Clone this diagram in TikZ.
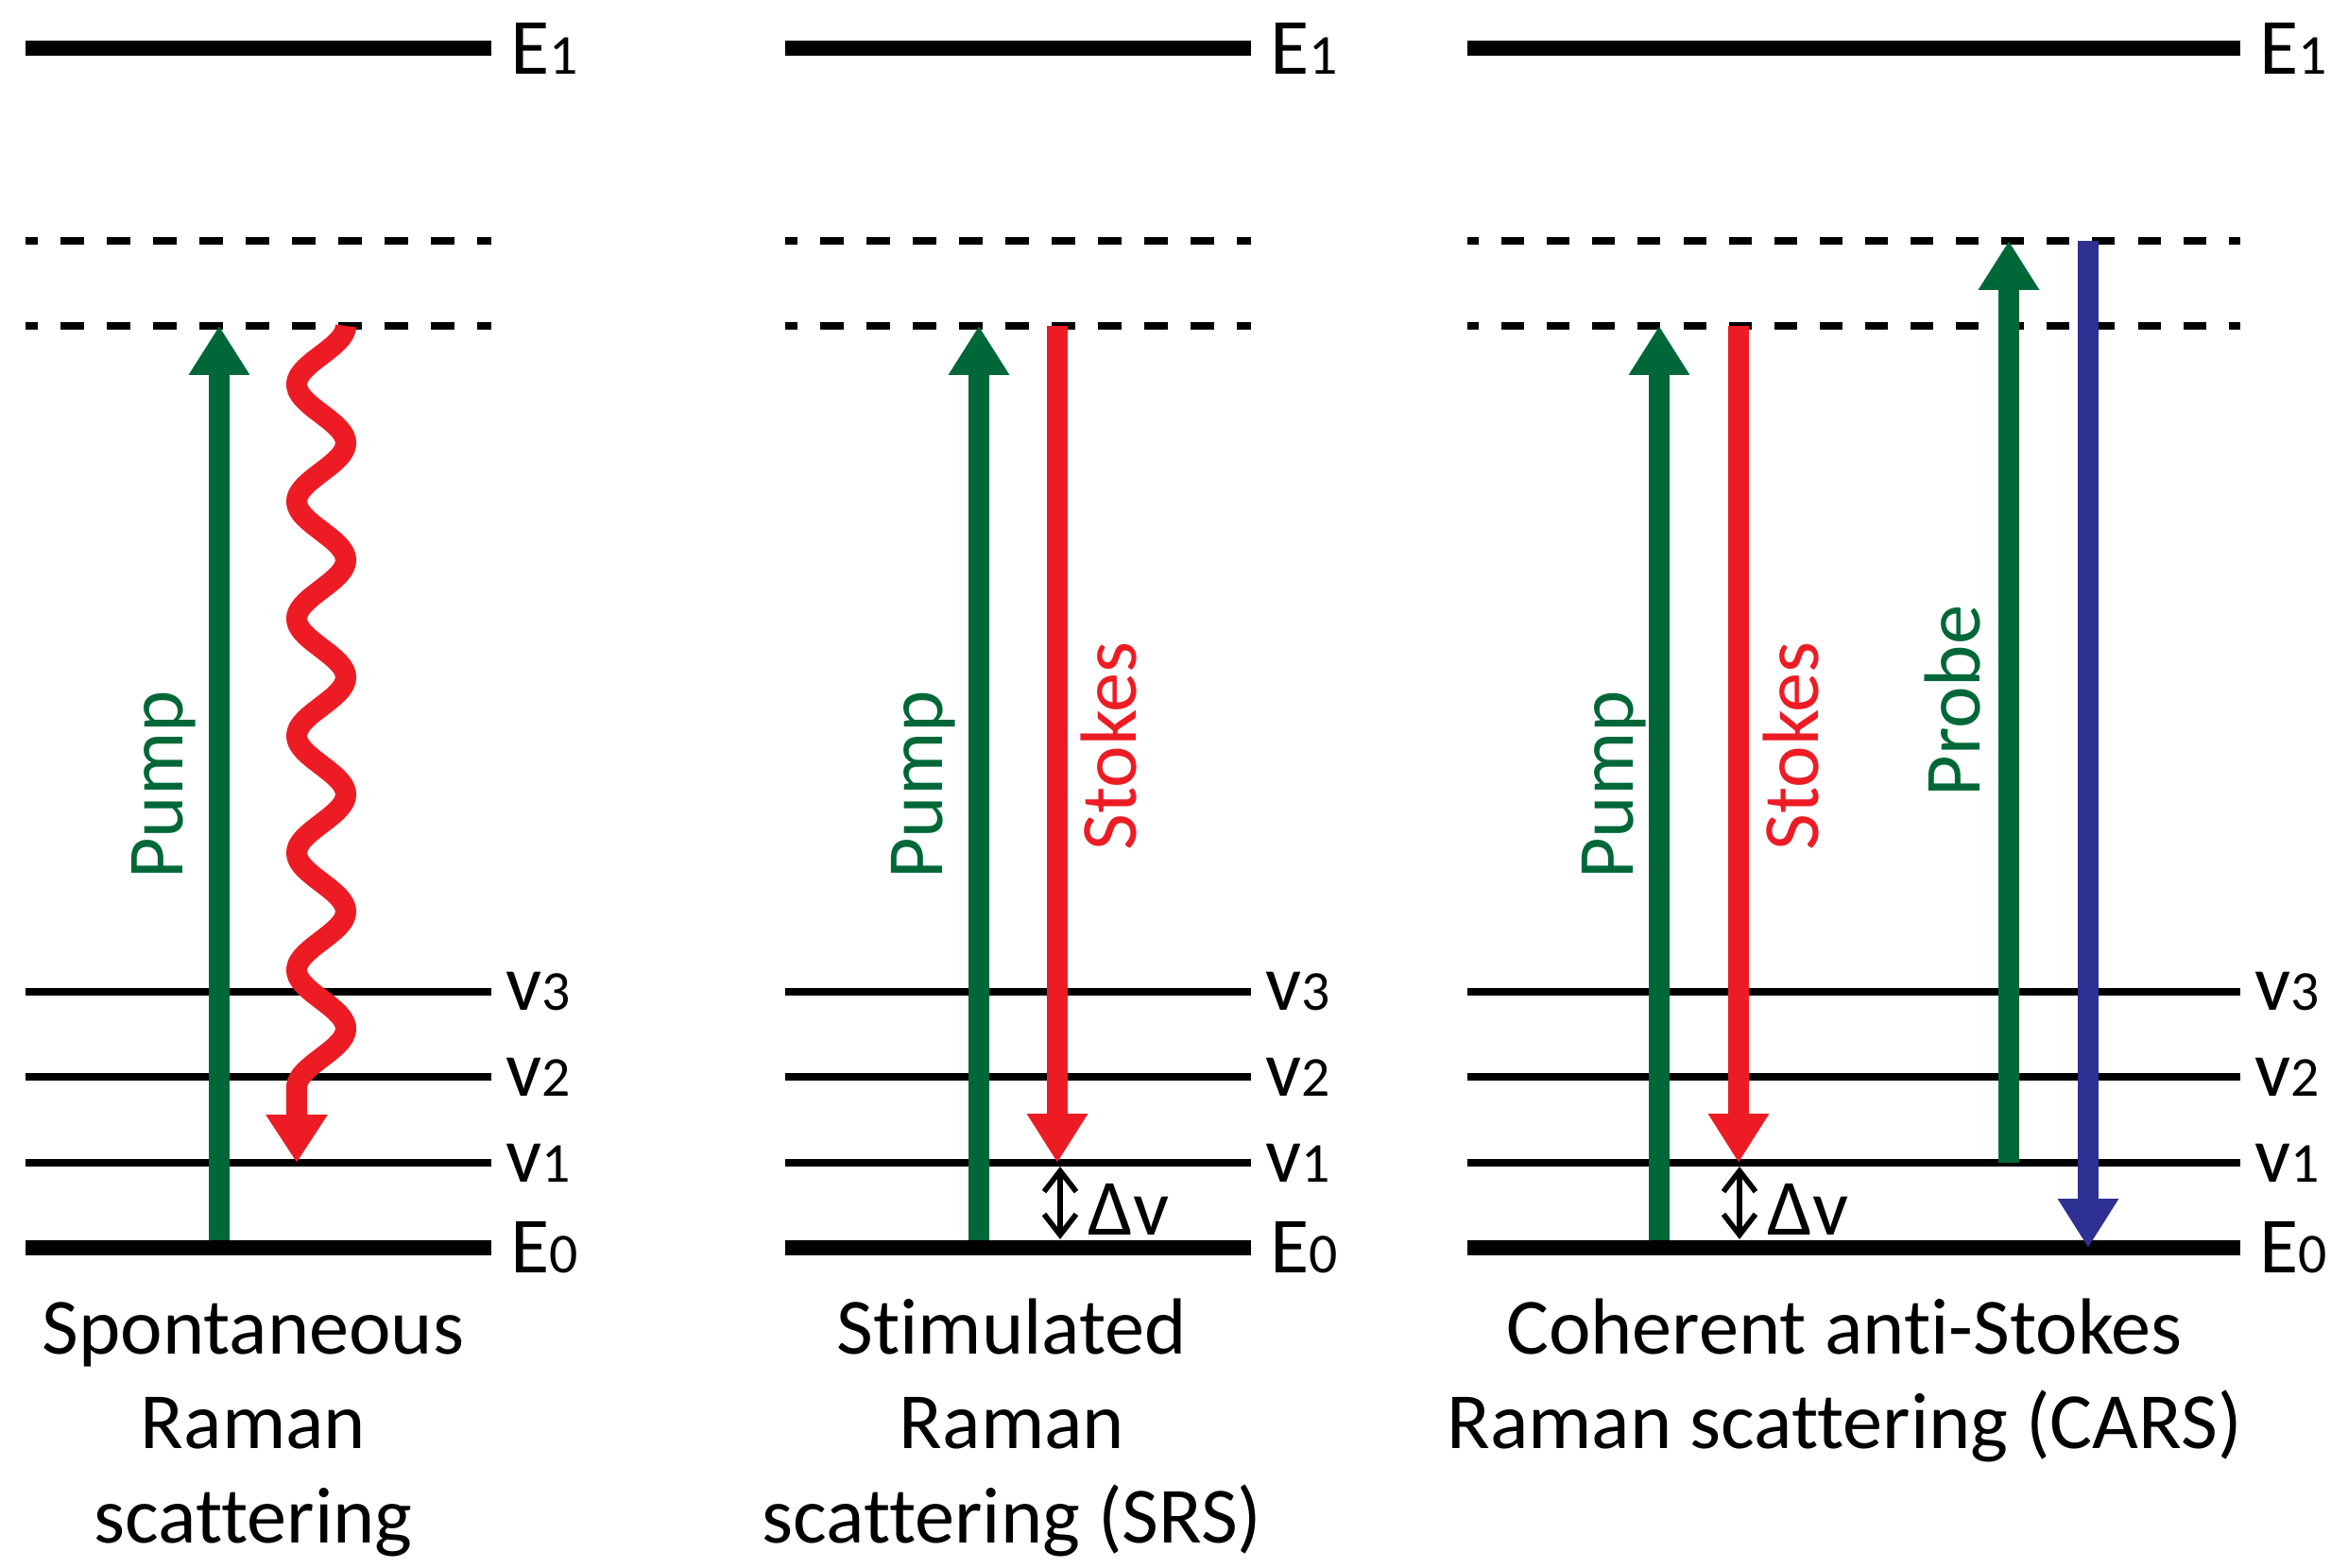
\documentclass[tikz,border=0pt]{standalone}
\usepackage{fontspec}
\setmainfont{Carlito}[Ligatures=CommonOff]
\usetikzlibrary{arrows.meta,positioning}
\definecolor{pumpgreen}{RGB}{0,104,56}
\definecolor{stokesred}{RGB}{237,28,36}
\definecolor{probeblue}{RGB}{46,49,146}
\newcommand{\lvsub}[1]{{\fontsize{17}{17}\selectfont #1}}
\tikzset{
  ground/.style={line width=4.8pt},
  vib/.style={line width=2.2pt},
  virt/.style={line width=2.3pt, dash pattern=on 2.45mm off 2.45mm, dash phase=1.2mm},
  beam/.style={line width=6.5pt, -{Triangle[length=5.2mm,width=6.1mm]}},
  wave/.style={stokesred, line width=6.3pt, line join=round, -{Triangle[length=5.1mm,width=6.2mm]}},
  lvl/.style={right=1.2mm, inner sep=0pt, font=\fontsize{24}{24}\selectfont},
  beamlabel/.style={rotate=90, anchor=base, inner sep=0pt, font=\fontsize{24}{24}\selectfont},
  caption/.style={anchor=base, align=center, inner sep=0pt, font=\fontsize{24}{28.45}\selectfont},
  ramanshift/.style={line width=1.6pt, {Straight Barb[length=2.2mm,width=3.4mm]}-{Straight Barb[length=2.2mm,width=3.4mm]}},
}
\begin{document}
\begin{tikzpicture}
\useasboundingbox (0,0) rectangle (24.85,16.59);
% spontaneous Raman
\draw[ground] (0.27,16.08) -- (5.20,16.08) node[lvl] (aE1) {E\lvsub{1}};
\draw[virt] (0.27,14.04) -- (5.20,14.04);
\draw[virt] (0.27,13.14) -- (5.20,13.14);
\draw[vib] (0.27,6.09) -- (5.20,6.09) node[lvl] (av3) {v\lvsub{3}};
\draw[vib] (0.27,5.19) -- (5.20,5.19) node[lvl] (av2) {v\lvsub{2}};
\draw[vib] (0.27,4.28) -- (5.20,4.28) node[lvl] (av1) {v\lvsub{1}};
\draw[ground] (0.27,3.38) -- (5.20,3.38) node[lvl] (aE0) {E\lvsub{0}};
\draw[beam, pumpgreen] (2.32,3.465) -- (2.32,13.14);
\node[beamlabel, pumpgreen] (apump) at (1.93,8.28) {Pump};
\draw[wave] plot[domain=0:6.5, samples=200] ({3.40+0.26*cos(360*\x)}, {13.14-1.24*\x}) -- (3.14,4.28);
\node[caption] (acap) at (2.68,0.26) {Spontaneous\\Raman\\scattering};

% stimulated Raman
\draw[ground] (8.31,16.08) -- (13.24,16.08) node[lvl] (bE1) {E\lvsub{1}};
\draw[virt] (8.31,14.04) -- (13.24,14.04);
\draw[virt] (8.31,13.14) -- (13.24,13.14);
\draw[vib] (8.31,6.09) -- (13.24,6.09) node[lvl] (bv3) {v\lvsub{3}};
\draw[vib] (8.31,5.19) -- (13.24,5.19) node[lvl] (bv2) {v\lvsub{2}};
\draw[vib] (8.31,4.28) -- (13.24,4.28) node[lvl] (bv1) {v\lvsub{1}};
\draw[ground] (8.31,3.38) -- (13.24,3.38) node[lvl] (bE0) {E\lvsub{0}};
\draw[beam, pumpgreen] (10.36,3.465) -- (10.36,13.14);
\node[beamlabel, pumpgreen] (bpump) at (9.97,8.28) {Pump};
\draw[beam, stokesred] (11.19,13.14) -- (11.19,4.28);
\node[beamlabel, stokesred] (bstokes) at (12.02,8.69) {Stokes};
\draw[ramanshift] (11.22,4.24) -- (11.22,3.47);
\node[anchor=base west, inner sep=0pt, font=\fontsize{24}{24}\selectfont] (bdv) at (11.51,3.52) {Δv};
\node[caption] (bcap) at (10.71,0.26) {Stimulated\\Raman\\scattering (SRS)};

% CARS
\draw[ground] (15.53,16.08) -- (23.71,16.08) node[lvl] (cE1) {E\lvsub{1}};
\draw[virt, dash pattern=on 2.405mm off 2.405mm] (15.53,14.04) -- (23.71,14.04);
\draw[virt, dash pattern=on 2.405mm off 2.405mm] (15.53,13.14) -- (23.71,13.14);
\draw[vib] (15.53,6.09) -- (23.71,6.09) node[lvl] (cv3) {v\lvsub{3}};
\draw[vib] (15.53,5.19) -- (23.71,5.19) node[lvl] (cv2) {v\lvsub{2}};
\draw[vib] (15.53,4.28) -- (23.71,4.28) node[lvl] (cv1) {v\lvsub{1}};
\draw[ground] (15.53,3.38) -- (23.71,3.38) node[lvl] (cE0) {E\lvsub{0}};
\draw[beam, pumpgreen] (17.56,3.465) -- (17.56,13.14);
\node[beamlabel, pumpgreen] (cpump) at (17.28,8.28) {Pump};
\draw[beam, stokesred] (18.40,13.14) -- (18.40,4.28);
\node[beamlabel, stokesred] (cstokes) at (19.24,8.69) {Stokes};
\draw[ramanshift] (18.41,4.24) -- (18.41,3.47);
\node[anchor=base west, inner sep=0pt, font=\fontsize{24}{24}\selectfont] (cdv) at (18.70,3.52) {Δv};
\draw[beam, pumpgreen] (21.26,4.28) -- (21.26,14.04);
\node[beamlabel, pumpgreen] (cprobe) at (20.95,9.17) {Probe};
\draw[beam, probeblue] (22.10,14.04) -- (22.10,3.38);
\node[caption] (ccap) at (19.52,1.26) {Coherent anti-Stokes\\Raman scattering (CARS)};
\end{tikzpicture}
\end{document}
